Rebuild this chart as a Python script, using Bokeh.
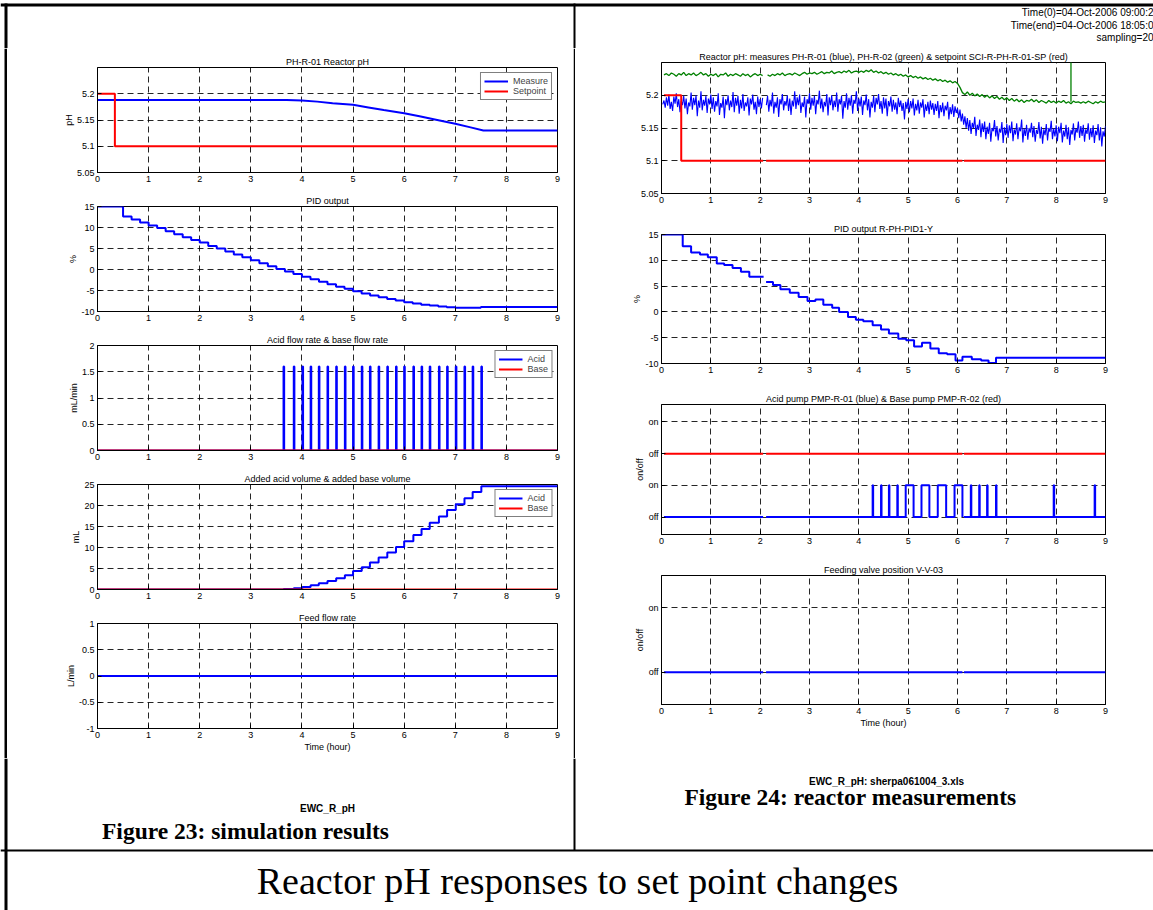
import numpy as np
from bokeh.plotting import figure
from bokeh.layouts import column, row
from bokeh.models import Range1d, FixedTicker, CustomJSTickFormatter
from bokeh.core.properties import value
from bokeh.embed import file_html
from bokeh.resources import INLINE

SANS = "Liberation Sans"
SERIF = "Liberation Serif"
BLUE = "#0000ff"
RED = "#ff0000"
GREEN = "#008000"
NAN = float("nan")

# ---------------- tick positions and labels ----------------
hour_ticks = [0, 1, 2, 3, 4, 5, 6, 7, 8, 9]
hour_labels = ["0", "1", "2", "3", "4", "5", "6", "7", "8", "9"]
ph_ticks = [5.05, 5.1, 5.15, 5.2]
ph_labels = ["5.05", "5.1", "5.15", "5.2"]
pid_ticks = [-10, -5, 0, 5, 10, 15]
pid_labels = ["-10", "-5", "0", "5", "10", "15"]
flow_ticks = [0, 0.5, 1, 1.5, 2]
flow_labels = ["0", "0.5", "1", "1.5", "2"]
vol_ticks = [0, 5, 10, 15, 20, 25]
vol_labels = ["0", "5", "10", "15", "20", "25"]
feed_ticks = [-1, -0.5, 0, 0.5, 1]
feed_labels = ["-1", "-0.5", "0", "0.5", "1"]
pump_ticks = [0, 1, 2, 3]
pump_labels = ["off", "on", "off", "on"]
valve_ticks = [0, 1]
valve_labels = ["off", "on"]

# ---------------- simulation results (left) ----------------
sim_ph_t = [0.0, 3.7, 4.0, 4.3, 4.6, 5.0, 5.3, 5.6, 6.0, 6.3, 6.6, 7.0, 7.3, 7.55, 9.0]
sim_ph_measure = [5.188, 5.188, 5.187, 5.185, 5.182, 5.179, 5.174, 5.169, 5.163, 5.157,
                  5.151, 5.143, 5.136, 5.130, 5.130]
sim_sp_t = [0.0, 0.34]
sim_sp = [5.2, 5.1]

sim_pid_t = [0.0, 0.5, 0.667, 0.833, 1.0, 1.167, 1.333, 1.5, 1.667, 1.833, 2.0, 2.167,
             2.333, 2.5, 2.667, 2.833, 3.0, 3.167, 3.333, 3.5, 3.667, 3.833, 4.0, 4.167,
             4.333, 4.5, 4.667, 4.833, 5.0, 5.167, 5.333, 5.5, 5.667, 5.833, 6.0, 6.167,
             6.333, 6.5, 6.667, 6.833, 7.0, 7.167, 7.333, 7.5]
sim_pid = [15.0, 12.6, 11.9, 11.2, 10.5, 9.9, 9.1, 8.4, 7.7, 7.0, 6.4, 5.6, 5.0, 4.3, 3.6,
           2.9, 2.2, 1.5, 0.8, 0.1, -0.5, -1.1, -1.7, -2.3, -2.9, -3.5, -4.1, -4.6, -5.2,
           -5.7, -6.2, -6.6, -7.0, -7.4, -7.8, -8.1, -8.4, -8.6, -8.8, -9.0, -9.1, -9.1,
           -9.1, -8.9]

sim_acid_on = [3.64, 3.84, 4.01, 4.17, 4.33, 4.50, 4.67, 4.84, 5.00, 5.17, 5.33, 5.50,
               5.67, 5.84, 6.00, 6.18, 6.34, 6.50, 6.68, 6.84, 7.01, 7.18, 7.34, 7.51]
sim_acid_rate = 1.6          # mL/min while the acid pump runs
sim_acid_pulse_h = 0.012     # pulse length, hours
sim_base_rate = 0.0

sim_vol_t = [0.0] + sim_acid_on
sim_acid_vol = [0.0, 0.1, 0.3, 0.6, 1.0, 1.5, 2.0, 2.7, 3.4, 4.4, 5.3, 6.4, 7.6, 8.8, 10.1,
                11.5, 13.0, 14.4, 15.9, 17.4, 18.9, 20.3, 21.7, 23.2, 24.6]
sim_base_vol = 0.0
sim_feed = 0.0

# ---------------- reactor measurements (right) ----------------
blue_dt_h = 0.025   # PH-R-01 trace, resampled interval in hours
plant_ph_blue = [
    5.186, 5.192, 5.181, 5.197, 5.184, 5.201, 5.179, 5.190, 5.176, 5.198, 5.187, 5.203, 5.182, 5.194, 5.174, 5.191, 5.185, 5.199, 5.180, 5.195,
    5.171, 5.189, 5.183, 5.204, 5.178, 5.196, 5.185, 5.200, 5.168, 5.192, 5.181, 5.206, 5.177, 5.193, 5.184, 5.199, 5.173, 5.195, 5.186, 5.201,
    5.179, 5.197, 5.175, 5.191, 5.183, 5.203, 5.170, 5.188, 5.181, 5.198, 5.165, 5.194, 5.185, 5.200, 5.177, 5.192, 5.182, 5.205, 5.174, 5.196,
    5.184, 5.199, 5.172, 5.193, 5.180, 5.202, 5.176, 5.189, 5.183, 5.197, 5.169, 5.195, 5.186, 5.201, 5.178, 5.190, 5.171, 5.198, 5.182, 5.194,
    5.180, 5.196, NAN, NAN, 5.185, 5.199, 5.175, 5.193, 5.183, 5.204, 5.172, 5.190, 5.181, 5.197, 5.167, 5.194, 5.186, 5.202, 5.177, 5.191,
    5.184, 5.200, 5.176, 5.195, 5.170, 5.192, 5.183, 5.206, 5.179, 5.197, 5.185, 5.201, 5.173, 5.189, 5.182, 5.198, 5.166, 5.194, 5.187, 5.203,
    5.178, 5.196, 5.184, 5.199, 5.171, 5.193, 5.186, 5.207, 5.180, 5.195, 5.174, 5.190, 5.183, 5.202, 5.169, 5.197, 5.185, 5.200, 5.177, 5.192,
    5.182, 5.204, 5.175, 5.194, 5.186, 5.199, 5.164, 5.191, 5.181, 5.203, 5.178, 5.196, 5.184, 5.200, 5.172, 5.193, 5.187, 5.206, 5.176, 5.195,
    5.183, 5.198, 5.170, 5.192, 5.185, 5.201, 5.177, 5.194, 5.166, 5.190, 5.181, 5.199, 5.174, 5.196, 5.186, 5.202, 5.179, 5.191, 5.172, 5.197,
    5.180, 5.195, 5.168, 5.191, 5.183, 5.198, 5.175, 5.193, 5.178, 5.189, 5.171, 5.196, 5.182, 5.192, 5.176, 5.188, 5.163, 5.190, 5.179, 5.194,
    5.174, 5.191, 5.180, 5.195, 5.169, 5.187, 5.177, 5.193, 5.172, 5.189, 5.181, 5.194, 5.166, 5.186, 5.176, 5.190, 5.171, 5.192, 5.178, 5.188,
    5.170, 5.187, 5.176, 5.191, 5.165, 5.185, 5.174, 5.189, 5.168, 5.184, 5.177, 5.190, 5.163, 5.182, 5.171, 5.186, 5.167, 5.183, 5.173, 5.180,
    5.165, 5.178, 5.160, 5.172, 5.155, 5.168, 5.150, 5.165, 5.146, 5.162, 5.141, 5.158, 5.150, 5.167, 5.138, 5.155, 5.147, 5.163, 5.136, 5.157,
    5.144, 5.160, 5.133, 5.152, 5.141, 5.158, 5.129, 5.150, 5.145, 5.162, 5.137, 5.153, 5.131, 5.149, 5.143, 5.159, 5.127, 5.151, 5.139, 5.156,
    5.135, 5.154, 5.142, 5.160, 5.130, 5.148, 5.140, 5.157, 5.133, 5.151, 5.145, 5.163, 5.128, 5.149, 5.138, 5.155, 5.132, 5.150, 5.143, 5.158,
    5.136, 5.153, 5.129, 5.147, 5.141, 5.159, 5.134, 5.152, 5.126, 5.148, 5.139, 5.156, 5.131, 5.150, 5.144, 5.161, 5.133, 5.149, 5.137, 5.154,
    5.130, 5.152, 5.142, 5.158, 5.128, 5.146, 5.137, 5.155, 5.133, 5.151, 5.124, 5.147, 5.140, 5.157, 5.131, 5.149, 5.143, 5.160, 5.135, 5.153,
    5.138, 5.155, 5.129, 5.148, 5.141, 5.157, 5.132, 5.150, 5.136, 5.154, 5.127, 5.146, 5.139, 5.156, 5.131, 5.151, 5.122, 5.145, 5.137, 5.153,
]
green_dt_h = 0.05   # PH-R-02 trace, resampled interval in hours
plant_ph_green = [
    5.231, 5.233, 5.230, 5.234, 5.232, 5.229, 5.233, 5.231, 5.235, 5.230,
    5.233, 5.231, 5.234, 5.230, 5.232, 5.235, 5.231, 5.233, 5.229, 5.232,
    5.230, 5.233, 5.228, 5.232, 5.231, 5.234, 5.229, 5.232, 5.230, 5.233,
    5.231, 5.229, 5.233, 5.230, 5.232, 5.228, 5.231, 5.233, 5.230, 5.232,
    5.230, NAN, 5.231, 5.229, 5.232, 5.230, 5.233, 5.231, 5.234, 5.230,
    5.232, 5.233, 5.231, 5.234, 5.232, 5.230, 5.233, 5.235, 5.232, 5.234,
    5.233, 5.235, 5.232, 5.234, 5.236, 5.233, 5.235, 5.234, 5.237, 5.233,
    5.235, 5.236, 5.234, 5.237, 5.235, 5.238, 5.234, 5.236, 5.237, 5.235,
    5.237, 5.235, 5.238, 5.236, 5.239, 5.235, 5.237, 5.234, 5.236, 5.233,
    5.235, 5.232, 5.234, 5.231, 5.233, 5.230, 5.232, 5.229, 5.231, 5.228,
    5.230, 5.227, 5.229, 5.226, 5.228, 5.225, 5.227, 5.224, 5.226, 5.223,
    5.225, 5.222, 5.224, 5.221, 5.223, 5.220, 5.222, 5.219, 5.221, 5.218,
    5.212, 5.204, 5.201, 5.205, 5.200, 5.203, 5.199, 5.202, 5.198, 5.201,
    5.197, 5.200, 5.196, 5.199, 5.195, 5.198, 5.194, 5.197, 5.193, 5.196,
    5.192, 5.195, 5.191, 5.194, 5.190, 5.193, 5.189, 5.192, 5.191, 5.194,
    5.190, 5.193, 5.189, 5.192, 5.190, 5.188, 5.192, 5.189, 5.191, 5.188,
    5.191, 5.189, 5.192, 5.188, 5.190, 5.187, 5.191, 5.189, 5.190, 5.188,
    5.190, 5.188, 5.191, 5.189, 5.187, 5.190, 5.188, 5.191, 5.189, 5.190,
]
plant_green_spike_t = [8.3, 8.3]
plant_green_spike_ph = [5.19, 5.30]

plant_sp_t = [0.05, 0.40, 2.06, 2.12, 6.10, 6.13]
plant_sp = [5.2, 5.1, NAN, 5.1, NAN, 5.1]

plant_pid_t = [0.0, 0.43, 0.60, 0.78, 0.94, 1.12, 1.27, 1.44, 1.61, 1.78, 2.07, 2.12,
               2.26, 2.41, 2.60, 2.78, 2.96, 3.12, 3.28, 3.46, 3.60, 3.78, 3.94, 4.09,
               4.28, 4.45, 4.61, 4.80, 4.96, 5.12, 5.28, 5.45, 5.62, 5.79, 5.96, 6.10,
               6.29, 6.48, 6.63, 6.78]
plant_pid = [15.0, 12.7, 11.5, 11.1, 10.6, 9.4, 9.1, 8.5, 7.8, 6.8, NAN, 5.8, 5.2, 4.4,
             3.7, 2.9, 2.1, 2.4, 1.4, 0.8, 0.0, -1.0, -1.5, -1.8, -2.6, -3.4, -4.2, -5.2,
             -5.5, -6.7, -6.0, -7.1, -8.0, -8.2, -9.4, -8.7, -9.2, -9.4, -9.9, -8.9]

plant_log_segments = [(0.05, 2.06), (2.12, 6.10), (6.13, 9.0)]
plant_acid_on = [4.28, 4.45, 4.61, 4.78, 4.95, 5.27, 5.60, 5.94, 6.27, 6.44, 6.60, 6.78,
                 7.95, 8.78]
plant_acid_off = [4.29, 4.46, 4.62, 4.79, 5.11, 5.43, 5.77, 6.10, 6.28, 6.45, 6.61, 6.79,
                  7.96, 8.79]
plant_base_level = 2.0   # base pump trace sits on the upper off/on pair
plant_valve_level = 0.0


# ---------------- helpers ----------------
def make_steps(t, v, t_end):
    xs, ys = [], []
    for i, val in enumerate(v):
        t1 = t[i + 1] if i + 1 < len(t) else t_end
        xs += [t[i], t1]
        ys += [val, val]
    return np.array(xs, float), np.array(ys, float)


def make_pulses(on, off, level, segments, base=0.0):
    xs, ys = [], []
    for a, b in segments:
        if xs:
            xs.append(NAN)
            ys.append(NAN)
        xs.append(a)
        ys.append(base)
        for s, e in zip(on, off):
            if a <= s < b:
                xs += [s, s, e, e]
                ys += [base, base + level, base + level, base]
        xs.append(b)
        ys.append(base)
    return np.array(xs, float), np.array(ys, float)


def flat(level, segments):
    xs, ys = [], []
    for a, b in segments:
        if xs:
            xs.append(NAN)
            ys.append(NAN)
        xs += [a, b]
        ys += [level, level]
    return np.array(xs, float), np.array(ys, float)


def labeller(tv, tl):
    return CustomJSTickFormatter(args=dict(tv=tv, tl=tl), code="""
        for (let i = 0; i < tv.length; i++) {
            if (Math.abs(tick - tv[i]) < 1e-9) { return tl[i]; }
        }
        return '';
    """)


def axes_fig(w, h, left, right, top, bottom, ylim, title, yticks, ylabels,
             ylabel=None, xlabel=None):
    p = figure(width=w, height=h, x_range=Range1d(0, 9), y_range=Range1d(*ylim),
               output_backend="svg", toolbar_location=None, title=title,
               min_border_left=left, min_border_right=right,
               min_border_top=top, min_border_bottom=bottom)
    p.title.align = "center"
    p.title.text_font = SANS
    p.title.text_font_size = "9px"
    p.title.text_font_style = "normal"
    p.title.text_color = "black"
    p.title.standoff = 2
    p.background_fill_color = "white"
    p.border_fill_color = "white"
    p.outline_line_color = "black"
    p.outline_line_width = 1
    p.outline_line_alpha = 1

    p.xaxis.ticker = FixedTicker(ticks=hour_ticks)
    p.xaxis.formatter = labeller(hour_ticks, hour_labels)
    p.yaxis.ticker = FixedTicker(ticks=yticks)
    p.yaxis.formatter = labeller(yticks, ylabels)
    for ax in (p.xaxis[0], p.yaxis[0]):
        ax.axis_line_color = "black"
        ax.major_tick_line_color = "black"
        ax.major_tick_in = 4
        ax.major_tick_out = 0
        ax.minor_tick_in = 0
        ax.minor_tick_out = 0
        ax.major_label_standoff = 3
        ax.major_label_text_font = SANS
        ax.major_label_text_font_size = "9px"
        ax.major_label_text_color = "black"
        ax.axis_label_text_font = SANS
        ax.axis_label_text_font_size = "9px"
        ax.axis_label_text_font_style = "normal"
        ax.axis_label_text_color = "black"
        ax.axis_label_standoff = 1
    if ylabel:
        p.yaxis.axis_label = ylabel
        p.yaxis.axis_label_standoff = 0
    if xlabel:
        p.xaxis.axis_label = xlabel
    p.grid.grid_line_color = "black"
    p.grid.grid_line_dash = "6 4"
    p.grid.grid_line_width = 1
    p.grid.grid_line_alpha = 0.85
    return p


def style_legend(p):
    lg = p.legend[0]
    lg.location = "top_right"
    lg.margin = 5
    lg.padding = 3
    lg.spacing = 0
    lg.border_line_color = "black"
    lg.border_line_width = 1
    lg.background_fill_color = "white"
    lg.background_fill_alpha = 1
    lg.label_text_font = SANS
    lg.label_text_font_size = "9px"
    lg.label_height = 10
    lg.glyph_height = 10
    lg.glyph_width = 24
    lg.label_standoff = 5


def canvas(w, h):
    p = figure(width=w, height=h, x_range=Range1d(0, w), y_range=Range1d(h, 0),
               x_axis_type=None, y_axis_type=None, output_backend="svg",
               toolbar_location=None, min_border=0)
    p.min_border_left = p.min_border_right = 0
    p.min_border_top = p.min_border_bottom = 0
    p.outline_line_color = None
    p.background_fill_color = "white"
    p.border_fill_color = "white"
    return p


def rule(p, x0, x1, y0, y1):
    # solid black band used for the page frame lines
    p.quad(left=[x0], right=[x1], top=[y0], bottom=[y1], fill_color="black",
           line_color=None)


def put_text(p, x, y, txt, font, size, style="normal", align="center"):
    p.text(x=[x], y=[y], text=[txt], text_font=value(font), text_font_size=size,
           text_font_style=style, text_align=align, text_baseline="middle",
           text_color="black")


# ---------------- page header (top line, run information) ----------------
TOP_H = 48
top = canvas(1153, TOP_H)
rule(top, 0, 1153, 3, 6)
rule(top, 4, 7, 3, TOP_H)
rule(top, 573, 575, 3, TOP_H)
put_text(top, 1153, 12, "Time(0)=04-Oct-2006 09:00:2", SANS, "10px", align="right")
put_text(top, 1153, 24.5, "Time(end)=04-Oct-2006 18:05:0", SANS, "10px", align="right")
put_text(top, 1153, 37, "sampling=20", SANS, "10px", align="right")

# ---------------- left column: simulation ----------------
LW, LL, LR = 566, 90, 16

l1 = axes_fig(LW, 144, LL, LR, 19, 20, (5.05, 5.25), "PH-R-01 Reactor pH",
              ph_ticks, ph_labels, ylabel="pH")
l1.line(np.array(sim_ph_t), np.array(sim_ph_measure), color=BLUE, line_width=2,
        legend_label="Measure")
sx, sy = make_steps(sim_sp_t, sim_sp, 9.0)
l1.line(sx, sy, color=RED, line_width=2, legend_label="Setpoint")
style_legend(l1)

l2 = axes_fig(LW, 139, LL, LR, 14, 20, (-10, 15), "PID output", pid_ticks, pid_labels,
              ylabel="%")
px, py = make_steps(sim_pid_t, sim_pid, 9.0)
l2.line(px, py, color=BLUE, line_width=2)

l3 = axes_fig(LW, 139, LL, LR, 14, 20, (0, 2), "Acid flow rate & base flow rate",
              flow_ticks, flow_labels, ylabel="mL/min")
ax_, ay_ = make_pulses(sim_acid_on, [s + sim_acid_pulse_h for s in sim_acid_on],
                       sim_acid_rate, [(0.0, 9.0)])
l3.line(ax_, ay_, color=BLUE, line_width=2, legend_label="Acid")
bx, by = flat(sim_base_rate, [(0.0, 9.0)])
l3.line(bx, by, color=RED, line_width=2, legend_label="Base")
style_legend(l3)

l4 = axes_fig(LW, 139, LL, LR, 14, 20, (0, 25), "Added acid volume & added base volume",
              vol_ticks, vol_labels, ylabel="mL")
vx, vy = make_steps(sim_vol_t, sim_acid_vol, 9.0)
l4.line(vx, vy, color=BLUE, line_width=2, legend_label="Acid")
bvx, bvy = flat(sim_base_vol, [(0.0, 9.0)])
l4.line(bvx, bvy, color=RED, line_width=2, legend_label="Base")
style_legend(l4)

l5 = axes_fig(LW, 149, LL, LR, 14, 30, (-1, 1), "Feed flow rate", feed_ticks, feed_labels,
              ylabel="L/min", xlabel="Time (hour)")
fx, fy = flat(sim_feed, [(0.0, 9.0)])
l5.line(fx, fy, color=BLUE, line_width=2)

# ---------------- right column: measurements ----------------
RW, RL, RR = 578, 86, 48

r1 = axes_fig(RW, 165, RL, RR, 14, 20, (5.05, 5.25),
              "Reactor pH: measures PH-R-01 (blue), PH-R-02 (green) & setpoint SCI-R-PH-R-01-SP (red)",
              ph_ticks, ph_labels)
t_green = np.round(green_dt_h * (np.arange(len(plant_ph_green)) + 1), 4)
t_blue = np.round(blue_dt_h * (np.arange(len(plant_ph_blue)) + 1), 4)
r1.line(t_green, np.array(plant_ph_green), color=GREEN, line_width=1.3)
r1.line(np.array(plant_green_spike_t), np.array(plant_green_spike_ph), color=GREEN,
        line_width=1.3)
r1.line(t_blue, np.array(plant_ph_blue), color=BLUE, line_width=1.1)
rsx, rsy = make_steps(plant_sp_t, plant_sp, 9.0)
r1.line(rsx, rsy, color=RED, line_width=2)

r2 = axes_fig(RW, 170, RL, RR, 21, 20, (-10, 15), "PID output R-PH-PID1-Y",
              pid_ticks, pid_labels, ylabel="%")
rpx, rpy = make_steps(plant_pid_t, plant_pid, 9.0)
r2.line(rpx, rpy, color=BLUE, line_width=2)

r3 = axes_fig(RW, 171, RL, RR, 21, 20, (-0.55, 3.55),
              "Acid pump PMP-R-01 (blue) & Base pump PMP-R-02 (red)",
              pump_ticks, pump_labels, ylabel="on/off")
bpx, bpy = flat(plant_base_level, plant_log_segments)
r3.line(bpx, bpy, color=RED, line_width=2)
apx, apy = make_pulses(plant_acid_on, plant_acid_off, 1.0, plant_log_segments)
r3.line(apx, apy, color=BLUE, line_width=2)

r4 = axes_fig(RW, 204, RL, RR, 21, 54, (-0.5, 1.5), "Feeding valve position V-V-03",
              valve_ticks, valve_labels, ylabel="on/off", xlabel="Time (hour)")
vvx, vvy = flat(plant_valve_level, plant_log_segments)
r4.line(vvx, vvy, color=BLUE, line_width=2)

# ---------------- frame lines beside the plot columns ----------------
MID_H = 710
edge = canvas(7, MID_H)
rule(edge, 4, 7, 0, MID_H)
divider = canvas(2, MID_H)
rule(divider, 0, 2, 0, MID_H)

# ---------------- captions and page bottom ----------------
BOT_H = 152   # page y 758 .. 910
bottom = canvas(1153, BOT_H)
rule(bottom, 4, 7, 0, BOT_H)
rule(bottom, 573, 575, 0, 92)
rule(bottom, 0, 1153, 91, 93)
put_text(bottom, 327, 50, "EWC_R_pH", SANS, "10px", "bold")
put_text(bottom, 245, 72, "Figure 23: simulation results", SERIF, "23.5px", "bold")
put_text(bottom, 886, 23, "EWC_R_pH: sherpa061004_3.xls", SANS, "10px", "bold")
put_text(bottom, 850, 38, "Figure 24: reactor measurements", SERIF, "23.5px", "bold")
put_text(bottom, 577, 122, "Reactor pH responses to set point changes", SERIF, "38px")

left_col = column(l1, l2, l3, l4, l5)
right_col = column(r1, r2, r3, r4)
middle = row(edge, left_col, divider, right_col)
page = column(top, middle, bottom)

open("out.html", "w").write(file_html(page, INLINE))
